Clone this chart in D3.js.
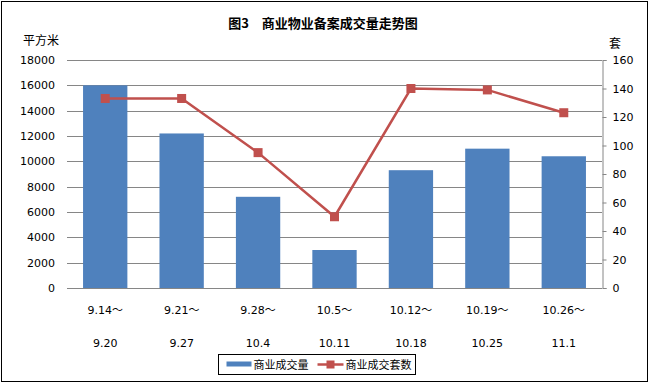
<!DOCTYPE html>
<html>
<head>
<meta charset="utf-8">
<script src="https://cdn.jsdelivr.net/npm/d3@7"></script>
<style>
  body { margin: 0; background: #fff; }
  svg text { font-family: "DejaVu Sans", "Noto Sans CJK SC", sans-serif; fill: #000; }
  .cjk { font-family: "Noto Sans CJK SC", sans-serif; }
</style>
</head>
<body>
<div id="chart"></div>
<script>
// 商业物业备案成交量走势图
const weeksStart = ['9.14～', '9.21～', '9.28～', '10.5～', '10.12～', '10.19～', '10.26～'];
const weeksEnd = ['9.20', '9.27', '10.4', '10.11', '10.18', '10.25', '11.1'];
const area = [16000, 12200, 7200, 3000, 9300, 11000, 10400];   // 商业成交量 (平方米)
const units = [133, 133, 95, 50, 140, 139, 123];               // 商业成交套数 (套)
const leftTicks = d3.range(0, 18001, 2000);
const rightTicks = d3.range(0, 161, 20);

const width = 650, height = 384;
const margin = [60, 48, 96, 67]; // top, right, bottom, left
const plotW = width - margin[1] - margin[3];
const plotH = height - margin[0] - margin[2];

const svg = d3.select('#chart').append('svg')
    .attr('width', width)
    .attr('height', height);

// outer frame
svg.append('rect')
    .attr('x', 1.5).attr('y', 1.5)
    .attr('width', width - 4).attr('height', height - 4)
    .attr('fill', '#fff')
    .attr('stroke', '#000');

svg.append('text')
    .attr('class', 'cjk')
    .attr('x', 323).attr('y', 28)
    .attr('text-anchor', 'middle')
    .style('font-size', '13px')
    .style('font-weight', 'bold')
    .text('图3　商业物业备案成交量走势图');

svg.append('text')
    .attr('class', 'cjk')
    .attr('x', 23).attr('y', 45)
    .style('font-size', '12px')
    .text('平方米');

svg.append('text')
    .attr('class', 'cjk')
    .attr('x', 609).attr('y', 48)
    .style('font-size', '12px')
    .text('套');

const chart = svg.append('g')
    .attr('transform', `translate(${margin[3]}, ${margin[0]})`);

// Scales
const x = d3.scaleBand()
    .domain(d3.range(weeksStart.length))
    .range([0, plotW])
    .paddingInner(0.42)
    .paddingOuter(0.21);

const xCenter = i => x(i) + x.bandwidth() / 2;

const yLeft = d3.scaleLinear().domain([0, 18000]).range([plotH, 0]);
const yRight = d3.scaleLinear().domain([0, 160]).range([plotH, 0]);

// Gridlines
chart.append('g')
    .selectAll('line')
    .data(leftTicks)
    .join('line')
    .attr('x1', 0).attr('x2', plotW)
    .attr('y1', d => Math.round(yLeft(d)) + 0.5)
    .attr('y2', d => Math.round(yLeft(d)) + 0.5)
    .attr('stroke', '#868686');

// Left axis labels
chart.append('g')
    .selectAll('text')
    .data(leftTicks)
    .join('text')
    .attr('x', -12)
    .attr('y', d => yLeft(d))
    .attr('dy', '0.35em')
    .attr('text-anchor', 'end')
    .style('font-size', '11px')
    .text(d => d);

// Right axis
const rightAxis = chart.append('g')
    .attr('transform', `translate(${plotW + 0.5}, 0)`)
    .call(d3.axisRight(yRight).tickValues(rightTicks).tickSize(4).tickPadding(6));
rightAxis.select('.domain').attr('stroke', '#868686');
rightAxis.selectAll('.tick line').attr('stroke', '#868686');
rightAxis.selectAll('.tick text')
    .style('font-size', '11px')
    .style('font-family', '"DejaVu Sans", sans-serif')
    .attr('fill', '#000');

// Bars
chart.append('g')
    .selectAll('rect')
    .data(area)
    .join('rect')
    .attr('x', (d, i) => x(i))
    .attr('y', d => yLeft(d))
    .attr('width', x.bandwidth())
    .attr('height', d => plotH - yLeft(d))
    .attr('fill', '#4F81BD');

// Line
const line = d3.line()
    .x((d, i) => xCenter(i))
    .y(d => yRight(d));

chart.append('path')
    .datum(units)
    .attr('d', line)
    .attr('fill', 'none')
    .attr('stroke', '#C0504D')
    .attr('stroke-width', 2.5);

chart.append('g')
    .selectAll('rect')
    .data(units)
    .join('rect')
    .attr('x', (d, i) => xCenter(i) - 4.5)
    .attr('y', d => yRight(d) - 4.5)
    .attr('width', 9)
    .attr('height', 9)
    .attr('fill', '#C0504D');

// X labels
const xl = chart.append('g')
    .selectAll('g')
    .data(weeksStart)
    .join('g')
    .attr('transform', (d, i) => `translate(${xCenter(i)}, ${plotH})`);

xl.append('text')
    .attr('y', 26)
    .attr('text-anchor', 'middle')
    .style('font-size', '11px')
    .text(d => d);

xl.append('text')
    .attr('y', 59)
    .attr('text-anchor', 'middle')
    .style('font-size', '11px')
    .text((d, i) => weeksEnd[i]);

// Legend
const legend = svg.append('g')
    .attr('transform', 'translate(218.5, 354.5)');

legend.append('rect')
    .attr('width', 197).attr('height', 20)
    .attr('fill', '#fff')
    .attr('stroke', '#000');

legend.append('rect')
    .attr('x', 8).attr('y', 7)
    .attr('width', 25).attr('height', 5)
    .attr('fill', '#4F81BD');

legend.append('text')
    .attr('class', 'cjk')
    .attr('x', 35).attr('y', 14)
    .style('font-size', '11px')
    .text('商业成交量');

legend.append('line')
    .attr('x1', 99).attr('x2', 125)
    .attr('y1', 10).attr('y2', 10)
    .attr('stroke', '#C0504D')
    .attr('stroke-width', 2.5);

legend.append('rect')
    .attr('x', 108).attr('y', 6)
    .attr('width', 8).attr('height', 8)
    .attr('fill', '#C0504D');

legend.append('text')
    .attr('class', 'cjk')
    .attr('x', 127).attr('y', 14)
    .style('font-size', '11px')
    .text('商业成交套数');
</script>
</body>
</html>
